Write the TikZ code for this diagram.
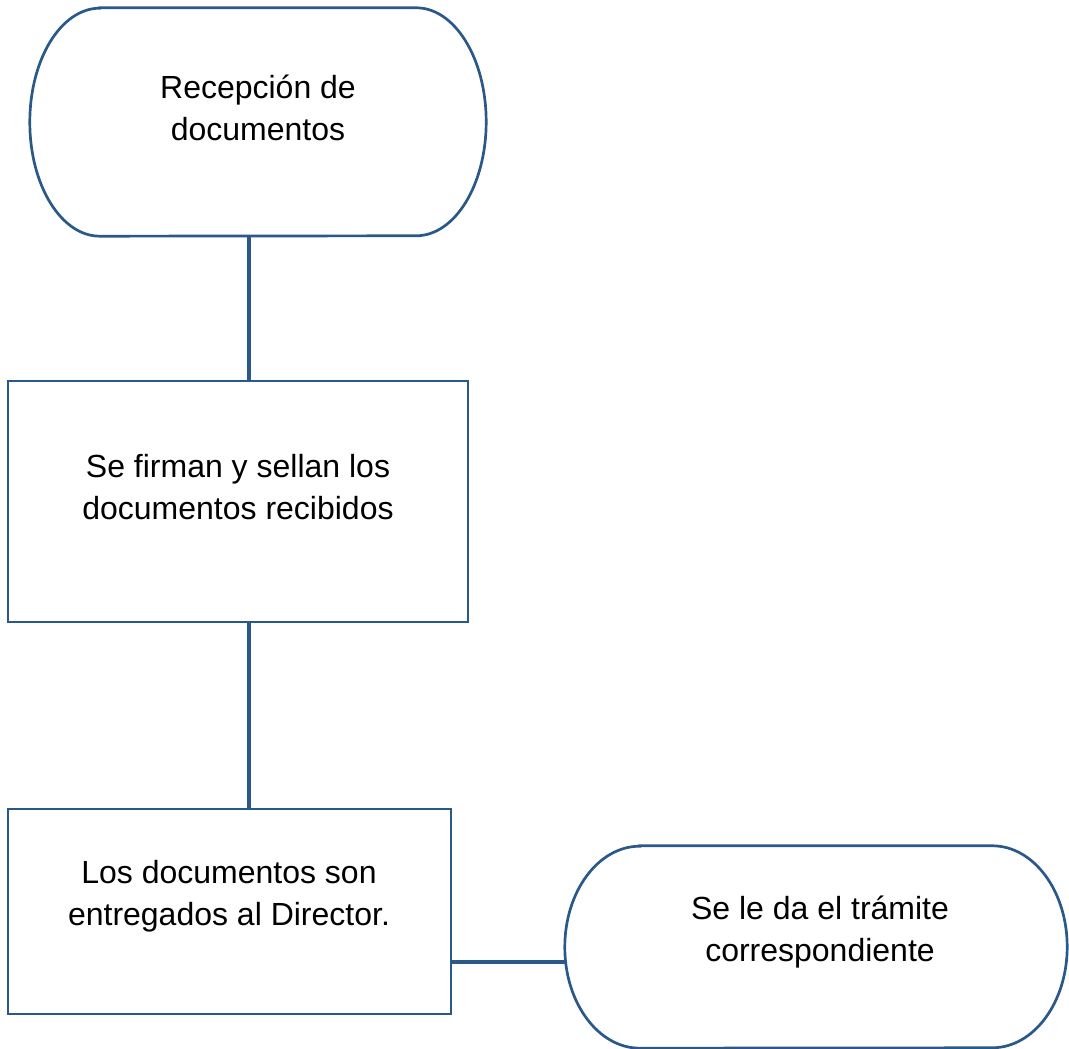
\documentclass[tikz,border=0pt]{standalone}
\usepackage{fontspec}
\setmainfont{Liberation Sans}
\usetikzlibrary{calc}
\definecolor{edgeblue}{RGB}{42,88,136}
\begin{document}
\begin{tikzpicture}[x=1pt,y=1pt,
  shapebox/.style={draw=edgeblue,line width=2.7pt,fill=white,inner sep=0pt,rectangle},
  ghost/.style={draw=none,inner sep=0pt,rectangle},
  conn/.style={draw=edgeblue,line width=3.5pt},
  lbl/.style={align=center,font=\fontsize{32}{42.5}\selectfont,inner sep=0pt}]
\useasboundingbox (0,0) rectangle (1069,1049);
% shapes
\node[ghost,minimum width=456pt,minimum height=228pt] (t1) at (258,927) {};
\node[shapebox,minimum width=460pt,minimum height=241pt] (r1) at (238,547.5) {};
\node[shapebox,minimum width=443pt,minimum height=205pt] (r2) at (229.5,137.5) {};
\node[ghost,minimum width=502pt,minimum height=202pt] (t2) at (816,102) {};
% terminator outlines
\draw[draw=edgeblue,line width=2.7pt,fill=white]
  ($(t1.north west)+(70,0)$) -- ($(t1.north east)+(-70,0)$)
  arc[start angle=90,end angle=-90,x radius=70,y radius=114]
  -- ($(t1.south west)+(70,0)$)
  arc[start angle=270,end angle=90,x radius=70,y radius=114] -- cycle;
\draw[draw=edgeblue,line width=2.7pt,fill=white]
  ($(t2.north west)+(75,0)$) -- ($(t2.north east)+(-75,0)$)
  arc[start angle=90,end angle=-90,x radius=75,y radius=101]
  -- ($(t2.south west)+(75,0)$)
  arc[start angle=270,end angle=90,x radius=75,y radius=101] -- cycle;
% connector guides
\coordinate (cx) at (249,0);
\coordinate (cy) at (0,87);
\draw[conn] (t1.south -| cx) -- (r1.north -| cx);
\draw[conn] (r1.south -| cx) -- (r2.north -| cx);
\draw[conn] (r2.east |- cy) -- (t2.west |- cy);
% redraw rectangle borders on top
\node[shapebox,fill=none,minimum width=460pt,minimum height=241pt] (r1b) at (r1) {};
\node[shapebox,fill=none,minimum width=443pt,minimum height=205pt] (r2b) at (r2) {};
% labels
\node[lbl] (l1) at (258,941) {Recepción de\\documentos};
\node[lbl] (l2) at (238,562) {Se firman y sellan los\\documentos recibidos};
\node[lbl] (l3) at (229,153) {Los documentos son\\entregados al Director.};
\node[lbl] (l4) at (820,117) {Se le da el trámite\\correspondiente};
\end{tikzpicture}
\end{document}
